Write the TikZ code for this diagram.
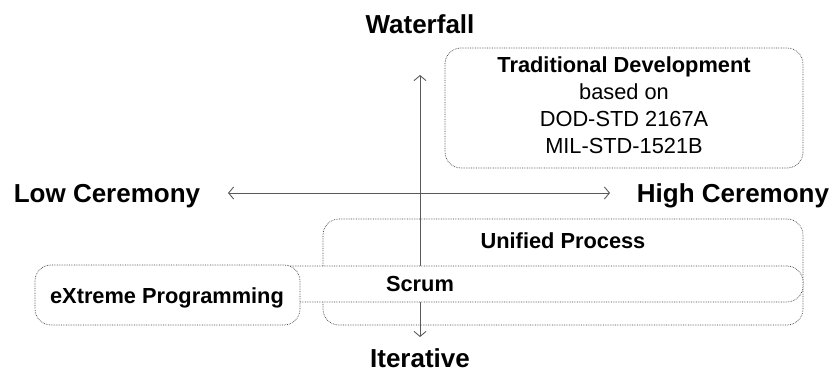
\documentclass[tikz,border=0pt]{standalone}
\usepackage{fontspec}
\setmainfont{Liberation Sans}
\usetikzlibrary{arrows.meta}
\tikzset{
  box/.style={draw=black!75, densely dotted, line width=0.7pt, rounded corners=16pt, fill=white, inner sep=0pt},
  axis/.style={draw=black!65, line width=0.9pt, {Straight Barb[length=5pt,width=12pt]}-{Straight Barb[length=5pt,width=12pt]}},
  big/.style={font=\fontsize{26}{30}\selectfont\bfseries, inner sep=0pt, anchor=base},
  med/.style={font=\fontsize{21.8}{27}\selectfont\bfseries, inner sep=0pt, anchor=base},
  reg/.style={font=\fontsize{21.8}{27}\selectfont, inner sep=0pt, anchor=base},
}
\begin{document}
\begin{tikzpicture}[x=1pt,y=-1pt]
\useasboundingbox (0,0) rectangle (832,371);
% Traditional
\node[box, minimum width=358pt, minimum height=120pt] (trad) at (624,108) {};
\node[med] (t1) at (624,73) {Traditional Development};
\node[reg] (t2) at (624,100) {based on};
\node[reg] (t3) at (624,127) {DOD-STD 2167A};
\node[reg] (t4) at (624,154) {MIL-STD-1521B};
% Unified Process
\node[box, minimum width=480pt, minimum height=106pt] (up) at (563,272) {};
\node[med] (uplabel) at (563,248) {Unified Process};
% axes
\coordinate (ntip) at (420,75);
\coordinate (stip) at (420,337);
\coordinate (wtip) at (228,193);
\coordinate (etip) at (610,193);
\draw[axis] (stip) -- (ntip);
\draw[axis] (wtip) -- (etip);
% Scrum
\node[box, minimum width=766pt, minimum height=36pt] (scrum) at (420,284) {};
\node[med] (scrumlabel) at (420,291) {Scrum};
% eXtreme Programming
\node[box, minimum width=265pt, minimum height=60pt] (xp) at (167.5,295) {};
\node[med] (xplabel) at (167,303) {eXtreme Programming};
% axis labels
\node[big] (wf) at (420,34) {Waterfall};
\node[big] (it) at (420,367) {Iterative};
\node[big] (lc) at (107,203) {Low Ceremony};
\node[big] (hc) at (733,203) {High Ceremony};
\end{tikzpicture}
\end{document}
